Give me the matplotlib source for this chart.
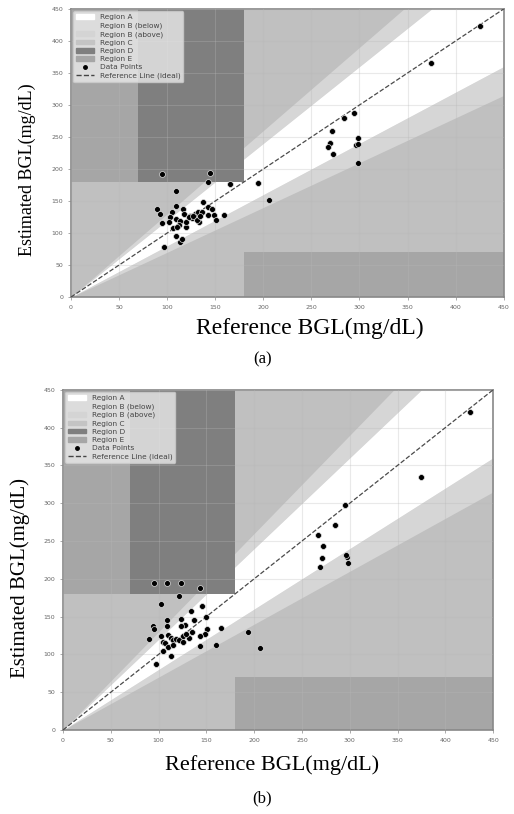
import numpy as np
import matplotlib
matplotlib.use('Agg')
from matplotlib import pyplot as plt
from matplotlib.patches import Patch, Rectangle
from matplotlib.lines import Line2D

# panel (a) readings
ref_a = [425, 374, 294, 284, 271, 269, 267, 272, 298, 296, 298, 298,
         206, 194, 165, 145, 142, 95, 109,
         137, 109, 89, 93, 95, 105, 103, 109, 106, 109, 113, 116, 97,
         117, 113, 112, 120, 120, 124, 126, 129, 132, 136, 142, 147, 143,
         149, 151, 159, 133, 131, 118, 123, 127, 134, 110, 102]
est_a = [424, 365, 288, 280, 260, 241, 234, 223, 248, 237, 239, 210,
         152, 178, 177, 194, 180, 192, 165,
         148, 143, 137, 130, 115, 133, 125, 122, 108, 96, 86, 90, 78,
         137, 119, 112, 110, 118, 127, 124, 130, 133, 133, 141, 138, 128,
         129, 120, 129, 117, 121, 130, 125, 127, 127, 110, 118]

# panel (b) readings
ref_b = [426, 374, 295, 284, 267, 272, 271, 269, 297, 296, 298,
         206, 194, 160, 165, 151, 148, 143, 143, 150, 145, 143,
         123, 109, 95, 121, 102, 134, 137, 123, 128, 123, 109, 109,
         94, 95, 90, 103, 110, 113, 115, 118, 121, 126, 126, 132, 135,
         105, 107, 110, 115, 105, 113, 97, 129]
est_b = [421, 334, 298, 271, 258, 243, 227, 216, 229, 231, 221,
         109, 129, 113, 135, 133, 127, 111, 124, 150, 164, 188,
         194, 194, 194, 177, 166, 157, 145, 147, 139, 137, 145, 137,
         138, 134, 120, 124, 125, 122, 119, 121, 119, 124, 117, 122, 129,
         117, 115, 110, 113, 105, 98, 87, 127]

ticks = np.arange(0, 451, 50)

col_a = 'white'
col_b = '#d6d6d6'
col_c = '#c0c0c0'
col_d = '#7f7f7f'
col_e = '#a6a6a6'


def draw_grid(ax, ref, est):
    x = np.linspace(0, 450, 200)
    ax.add_patch(Rectangle((0, 0), 450, 450, color=col_c, zorder=0))
    ax.fill_between(x, 0.7 * x, 0.8 * x, color=col_b, lw=0, zorder=1)
    ax.fill_between(x, 1.2 * x, 1.3 * x, color=col_b, lw=0, zorder=1)
    ax.fill_between(x, 0.8 * x, 1.2 * x, color=col_a, lw=0, zorder=1)
    ax.add_patch(Rectangle((70, 180), 110, 270, color=col_d, lw=0, zorder=2))
    ax.add_patch(Rectangle((0, 180), 70, 270, color=col_e, lw=0, zorder=2))
    ax.add_patch(Rectangle((180, 0), 270, 70, color=col_e, lw=0, zorder=2))
    ax.grid(True, color='#b8b8b8', alpha=0.3, lw=0.8, zorder=3)
    ax.set_axisbelow(False)
    ax.scatter(ref, est, s=18, c='black', edgecolors='#e0e0e0',
               linewidths=0.5, zorder=5)
    ax.plot([0, 450], [0, 450], '--', color='#4a4a4a', lw=0.9, zorder=4)
    ax.set_xlim(0, 450)
    ax.set_ylim(0, 450)
    ax.set_xticks(ticks)
    ax.set_yticks(ticks)
    ax.tick_params(labelsize=4.5, labelcolor='#666666', color='#888888',
                   length=2, width=0.5)
    for s in ax.spines.values():
        s.set_color('#888888')
        s.set_linewidth(1.2)
    handles = [Patch(color=col_a, label='Region A'),
               Patch(color='#dcdcdc', label='Region B (below)'),
               Patch(color='#d4d4d4', label='Region B (above)'),
               Patch(color='#c4c4c4', label='Region C'),
               Patch(color=col_d, label='Region D'),
               Patch(color=col_e, label='Region E'),
               Line2D([], [], ls='', marker='o', ms=2.5, color='black',
                      label='Data Points'),
               Line2D([], [], ls='--', color='#444444', lw=1,
                      label='Reference Line (ideal)')]
    leg = ax.legend(handles=handles, loc='upper left', fontsize=5.3,
                    frameon=True, framealpha=0.8, facecolor='#eaeaea',
                    edgecolor='#cccccc', borderaxespad=0.3,
                    handlelength=2.4, labelspacing=0.3, handleheight=0.6)
    for t in leg.get_texts():
        t.set_color('#444444')
    leg.set_zorder(10)


fig = plt.figure(figsize=(5.14, 8.14), dpi=100)

ax1 = fig.add_axes([0.138, 0.635, 0.842, 0.354])
draw_grid(ax1, ref_a, est_a)
ax2 = fig.add_axes([0.1226, 0.1032, 0.837, 0.418])
draw_grid(ax2, ref_b, est_b)

serif = 'Liberation Serif'
fig.text(0.0525, 0.791, 'Estimated BGL(mg/dL)', rotation=90, ha='center',
         va='center', fontsize=13, family=serif)
fig.text(0.603, 0.597, 'Reference BGL(mg/dL)', ha='center', va='center',
         fontsize=17, family=serif)
fig.text(0.51, 0.558, '(a)', ha='center', va='center', fontsize=12,
         family=serif)

fig.text(0.039, 0.29, 'Estimated BGL(mg/dL)', rotation=90, ha='center',
         va='center', fontsize=15, family=serif)
fig.text(0.53, 0.06, 'Reference BGL(mg/dL)', ha='center', va='center',
         fontsize=16, family=serif)
fig.text(0.51, 0.0197, '(b)', ha='center', va='center', fontsize=12,
         family=serif)

fig.savefig('out.png', dpi=100)
